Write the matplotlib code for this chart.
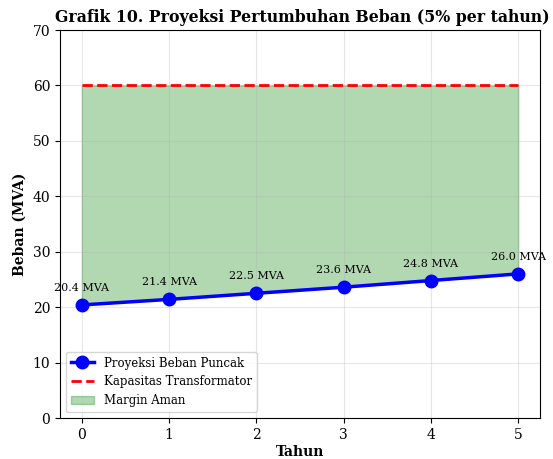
import matplotlib
matplotlib.use("Agg")
import matplotlib.pyplot as plt

plt.rcParams['font.family'] = ['DejaVu Serif']

years = [0, 1, 2, 3, 4, 5]
beban = [20.4, 21.4, 22.5, 23.6, 24.8, 26.0]
kapasitas = [60, 60, 60, 60, 60, 60]

fig = plt.figure(figsize=(5.53, 4.59), dpi=100)
ax = fig.add_axes([60/553, 41/459, 480/553, 388/459])

ax.plot(years, beban, 'o-', color='blue', linewidth=2.5, markersize=9, label='Proyeksi Beban Puncak')
ax.plot(years, kapasitas, '--', color='red', linewidth=2, label='Kapasitas Transformator')
ax.fill_between(years, beban, kapasitas, color='green', alpha=0.3, label='Margin Aman')

for x, y in zip(years, beban):
    ax.annotate(f'{y:.1f} MVA', (x, y), textcoords='offset points', xytext=(0, 10),
                ha='center', fontsize=8)

ax.set_ylim(0, 70)
ax.set_xlim(-0.25, 5.25)
ax.set_xlabel('Tahun', fontweight='bold', fontsize=10, labelpad=2)
ax.set_ylabel('Beban (MVA)', fontweight='bold', fontsize=10)
ax.set_title('Grafik 10. Proyeksi Pertumbuhan Beban (5% per tahun)', fontweight='bold', fontsize=11.3, x=0.505)
ax.grid(True, alpha=0.3)
ax.legend(loc='lower left', fontsize=8.5)

fig.savefig('out.png', dpi=100)
